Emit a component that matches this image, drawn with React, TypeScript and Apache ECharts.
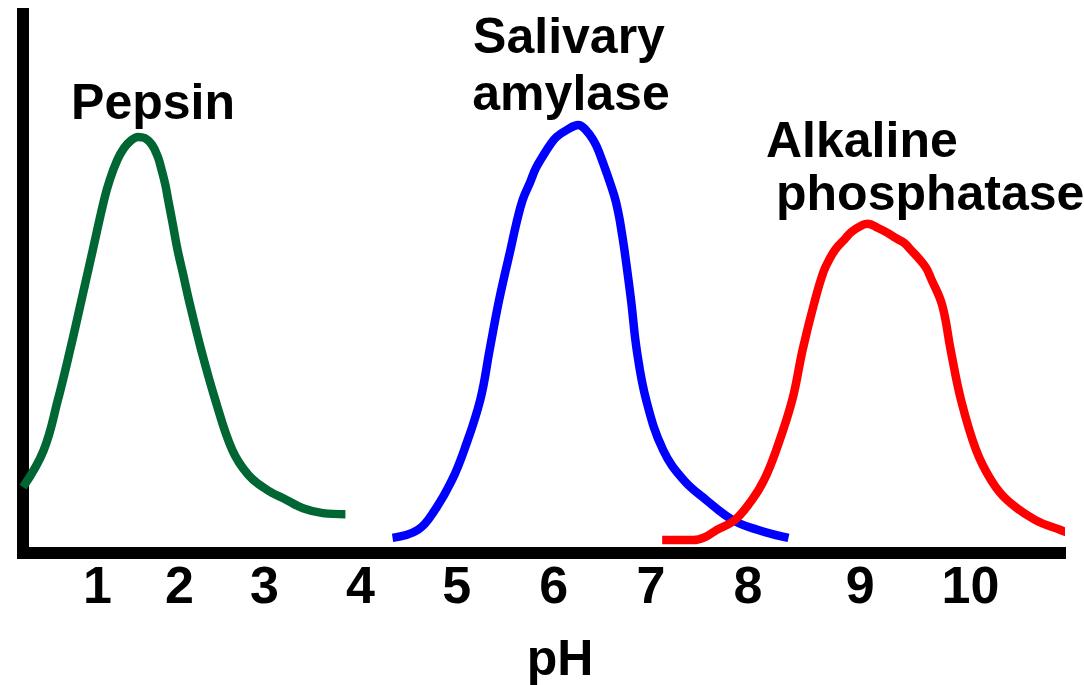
import React, { useEffect, useRef } from "react";
import * as echarts from "echarts";

// x-axis tick labels (pH) and where they sit along the drawn axis
const tickLabels = ["1", "2", "3", "4", "5", "6", "7", "8", "9", "10"];
const tickPositions = [0.79, 1.66, 2.56, 3.58, 4.6, 5.63, 6.66, 7.69, 8.88, 10.05];

// Pepsin (green)
const pepsinX = [0.0, 0.22, 0.37, 0.5, 0.62, 0.74, 0.86, 0.92, 1.0, 1.07, 1.15, 1.22, 1.29, 1.37, 1.43, 1.47, 1.51, 1.54, 1.59, 1.64, 1.7, 1.76, 1.89, 2.04, 2.22, 2.39, 2.59, 2.8, 2.97, 3.18, 3.42];
const pepsinY = [12.2, 19.1, 28.4, 37.7, 46.9, 56.2, 65.5, 69.2, 72.9, 75.1, 76.6, 77.2, 77.0, 75.7, 73.5, 71.1, 68.3, 65.5, 60.9, 56.2, 51.6, 46.9, 37.7, 28.4, 19.1, 14.5, 11.7, 9.8, 8.3, 7.4, 7.2];

// Salivary amylase (blue)
const amylaseX = [3.92, 4.19, 4.37, 4.55, 4.68, 4.85, 4.95, 5.05, 5.17, 5.23, 5.3, 5.38, 5.44, 5.52, 5.59, 5.66, 5.77, 5.89, 5.97, 6.05, 6.11, 6.27, 6.32, 6.35, 6.38, 6.45, 6.51, 6.61, 6.79, 7.01, 7.25, 7.53, 7.79, 8.12];
const amylaseY = [2.8, 4.3, 8.0, 13.5, 19.1, 28.4, 37.7, 46.9, 56.2, 60.9, 65.5, 68.8, 71.4, 73.8, 75.7, 77.2, 78.5, 79.4, 78.5, 76.6, 74.4, 66.4, 62.7, 59.6, 56.2, 46.9, 37.7, 28.4, 19.1, 13.5, 9.8, 6.1, 4.3, 2.8];

// Alkaline phosphatase (red)
const phosphataseX = [6.78, 7.11, 7.24, 7.36, 7.55, 7.73, 7.86, 7.99, 8.16, 8.27, 8.39, 8.49, 8.56, 8.63, 8.71, 8.79, 8.91, 8.96, 9.07, 9.17, 9.26, 9.35, 9.42, 9.5, 9.58, 9.63, 9.75, 9.84, 9.95, 10.11, 10.27, 10.44, 10.74, 11.0, 11.16];
const phosphataseY = [2.4, 2.4, 3.0, 4.3, 6.1, 9.8, 13.5, 19.1, 28.4, 37.7, 46.2, 52.1, 54.7, 56.6, 58.1, 59.6, 60.9, 61.1, 60.3, 59.4, 58.4, 57.5, 56.2, 54.7, 52.9, 51.0, 46.0, 37.7, 28.4, 19.1, 13.5, 9.8, 6.1, 4.3, 3.3];

const FONT = '"Liberation Sans", Arial, Helvetica, sans-serif';

function pairs(xs: number[], ys: number[]) {
  return xs.map((x, i) => [x, ys[i]]);
}

export default function App() {
  const ref = useRef<HTMLDivElement>(null);

  useEffect(() => {
    if (!ref.current) return;
    const chart = echarts.init(ref.current, undefined, { renderer: "svg" });
    const labelText = (text: string, x: number, y: number, align: string) => ({
      type: "text",
      x,
      y,
      style: {
        text,
        fill: "#000",
        font: `bold 50px ${FONT}`,
        textAlign: align,
        textVerticalAlign: "middle",
      },
    });
    const curve = (name: string, xs: number[], ys: number[], color: string) => ({
      name,
      type: "line",
      data: pairs(xs, ys),
      showSymbol: false,
      symbol: "none",
      smooth: 0.4,
      clip: false,
      lineStyle: { color, width: 8.5, cap: "butt", join: "round" },
    });
    chart.setOption({
      animation: false,
      backgroundColor: "#ffffff",
      grid: { left: 23, right: 24, top: 14, bottom: 132, containLabel: false },
      xAxis: {
        type: "value",
        min: 0,
        max: 11,
        axisLine: { show: true, lineStyle: { color: "#000", width: 12, cap: "square" } },
        axisTick: { show: false },
        splitLine: { show: false },
        axisLabel: {
          customValues: tickPositions,
          margin: 6,
          color: "#000",
          fontFamily: FONT,
          fontWeight: "bold",
          fontSize: 52,
          lineHeight: 52,
          formatter: (v: number) => {
            let best = 0;
            tickPositions.forEach((p, i) => {
              if (Math.abs(p - v) < Math.abs(tickPositions[best] - v)) best = i;
            });
            return tickLabels[best];
          },
        },
      },
      yAxis: {
        type: "value",
        min: 0,
        max: 100,
        axisLine: { show: true, lineStyle: { color: "#000", width: 12, cap: "square" } },
        axisTick: { show: false },
        axisLabel: { show: false },
        splitLine: { show: false },
      },
      series: [
        curve("Pepsin", pepsinX, pepsinY, "#006633"),
        curve("Salivary amylase", amylaseX, amylaseY, "#0000ff"),
        curve("Alkaline phosphatase", phosphataseX, phosphataseY, "#ff0000"),
      ],
      graphic: [
        labelText("Pepsin", 153, 102, "center"),
        labelText("Salivary", 569, 36, "center"),
        labelText("amylase", 571, 93, "center"),
        labelText("Alkaline", 766, 140, "left"),
        labelText("phosphatase", 776, 193, "left"),
        labelText("pH", 560, 658, "center"),
      ],
    });
    return () => chart.dispose();
  }, []);

  return (
    <div
      ref={ref}
      style={{ position: "fixed", left: 0, top: 0, width: 1084, height: 685, background: "#fff" }}
    />
  );
}
